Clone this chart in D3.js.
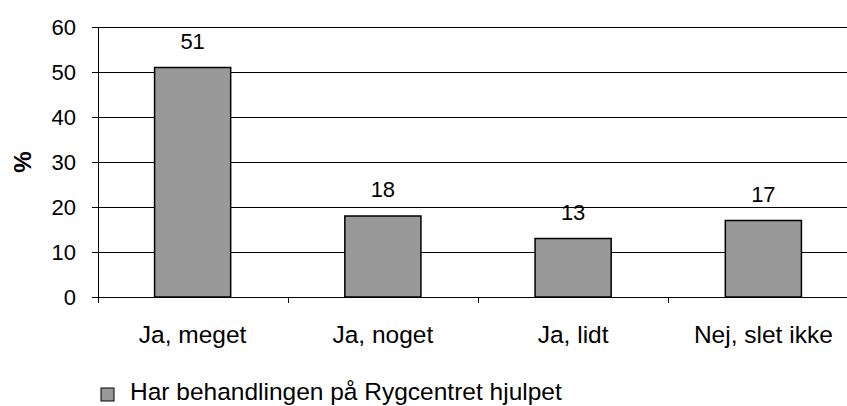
<!DOCTYPE html>
<meta charset="utf-8">
<style>
body { margin: 0; background: #fff; }
text {
  font-family: "Liberation Sans", Arial, sans-serif;
  font-size: 22px;
  fill: #000;
}
.cat, .legend text { font-size: 24.5px; }
.grid line { stroke: #000; stroke-width: 1px; shape-rendering: crispEdges; }
.bar { fill: #999999; stroke: #000; stroke-width: 1.5px; }
</style>
<svg width="847" height="406"></svg>
<script src="https://d3js.org/d3.v7.min.js"></script>
<script>

var categories = ["Ja, meget", "Ja, noget", "Ja, lidt", "Nej, slet ikke"];
var values = [51, 18, 13, 17];
var yTicks = [0, 10, 20, 30, 40, 50, 60];
var seriesName = "Har behandlingen på Rygcentret hjulpet";

var svg = d3.select("svg");

var plotLeft = 97.5, plotRight = 858.5, plotTop = 27, plotBottom = 297;

var x = d3.scaleBand()
    .domain(categories)
    .range([plotLeft, plotRight])
    .paddingInner(0.6)
    .paddingOuter(0.3);

var y = d3.scaleLinear()
    .domain([0, 60])
    .range([plotBottom, plotTop]);

// horizontal gridlines
svg.append("g")
    .attr("class", "grid")
  .selectAll("line")
  .data(yTicks)
  .enter().append("line")
    .attr("x1", plotLeft - 6)
    .attr("x2", plotRight)
    .attr("y1", function(d) { return Math.round(y(d)) + 0.5; })
    .attr("y2", function(d) { return Math.round(y(d)) + 0.5; });

// y axis line + category ticks
var axis = svg.append("g").attr("class", "grid");
axis.append("line")
    .attr("x1", Math.round(plotLeft) + 0.5).attr("x2", Math.round(plotLeft) + 0.5)
    .attr("y1", plotTop).attr("y2", plotBottom + 6);
axis.selectAll(".xt")
  .data(categories.slice(1))
  .enter().append("line")
    .attr("class", "xt")
    .attr("x1", function(d) { return Math.round(x(d) - x.step() * x.paddingOuter()) + 0.5; })
    .attr("x2", function(d) { return Math.round(x(d) - x.step() * x.paddingOuter()) + 0.5; })
    .attr("y1", plotBottom)
    .attr("y2", plotBottom + 6);

// y tick labels
svg.append("g")
  .selectAll("text")
  .data(yTicks)
  .enter().append("text")
    .attr("x", 76)
    .attr("y", function(d) { return y(d); })
    .attr("dy", "0.35em")
    .attr("text-anchor", "end")
    .text(function(d) { return d; });

// y axis title
svg.append("text")
    .attr("transform", "translate(31," + (plotTop + plotBottom) / 2 + ") rotate(-90)")
    .attr("text-anchor", "middle")
    .style("font-weight", "bold")
    .style("font-size", "24px")
    .text("%");

// bars
svg.append("g")
  .selectAll("rect")
  .data(values)
  .enter().append("rect")
    .attr("class", "bar")
    .attr("x", function(d, i) { return x(categories[i]); })
    .attr("width", x.bandwidth())
    .attr("y", function(d) { return y(d); })
    .attr("height", function(d) { return y(0) - y(d); });

// value labels
svg.append("g")
  .selectAll("text")
  .data(values)
  .enter().append("text")
    .attr("x", function(d, i) { return x(categories[i]) + x.bandwidth() / 2; })
    .attr("y", function(d) { return y(d) - 19; })
    .attr("text-anchor", "middle")
    .text(function(d) { return d; });

// category labels
svg.append("g")
  .selectAll("text")
  .data(categories)
  .enter().append("text")
    .attr("class", "cat")
    .attr("x", function(d) { return x(d) + x.bandwidth() / 2; })
    .attr("y", 343)
    .attr("text-anchor", "middle")
    .text(function(d) { return d; });

// legend
var legend = svg.append("g").attr("class", "legend");
legend.append("rect")
    .attr("class", "bar")
    .attr("x", 101)
    .attr("y", 388)
    .attr("width", 13)
    .attr("height", 13)
    .style("stroke-width", "1px");
legend.append("text")
    .attr("x", 130)
    .attr("y", 400)
    .text(seriesName);

</script>
